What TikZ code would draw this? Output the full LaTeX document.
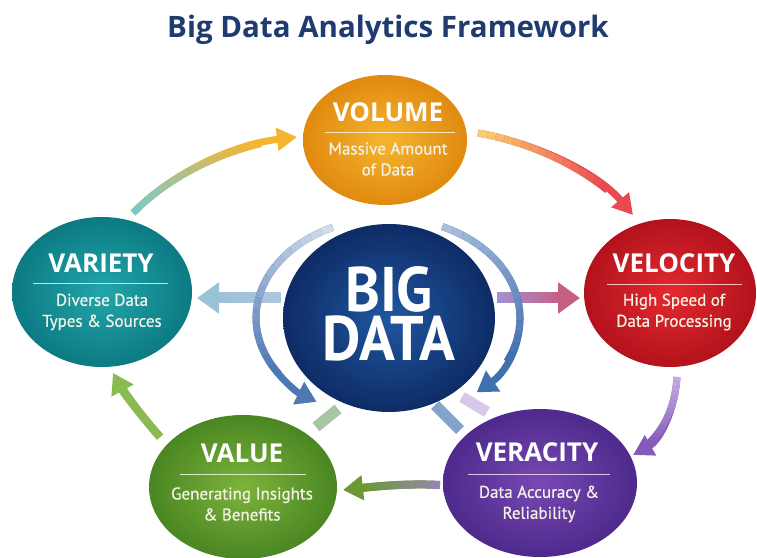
\documentclass[tikz,border=0pt]{standalone}
\usepackage{fontspec}
\setmainfont{PT Sans}
\newfontfamily\headfont{Open Sans}
\newfontfamily\subfont[FakeBold=0.7]{PT Sans}
\usetikzlibrary{shapes.geometric,arrows.meta,decorations.markings}
\definecolor{titlec}{HTML}{1F3B6F}
\definecolor{volin}{HTML}{F6B52E}\definecolor{volout}{HTML}{E08A10}
\definecolor{varin}{HTML}{22A6AB}\definecolor{varout}{HTML}{0C7A82}
\definecolor{velin}{HTML}{E42A30}\definecolor{velout}{HTML}{B3121C}
\definecolor{valin}{HTML}{7DB43C}\definecolor{valout}{HTML}{4A8622}
\definecolor{verin}{HTML}{7848B4}\definecolor{verout}{HTML}{4E2A8C}
\definecolor{bigin}{HTML}{2057A0}\definecolor{bigout}{HTML}{0E2C66}
\definecolor{subtxt}{HTML}{F4F2E4}
\newcommand{\gradarrow}[6]{%
  \draw[line width=#4, draw=#3, -{Triangle[width=#5, length=#6]}] #1;
  \path[decorate, decoration={markings, mark=between positions 0 and 0.801 step 0.05 with {\coordinate (gp\pgfkeysvalueof{/pgf/decoration/mark info/sequence number});}}] #1;
  \foreach \k [evaluate=\k as \kn using int(\k+1), evaluate=\k as \pc using int(100-(\k-1)*100/15)] in {1,...,16}
    {\draw[line width=#4, draw=#2!\pc!#3] (gp\k) -- (gp\kn);}
}
\begin{document}
\begin{tikzpicture}[x=1pt,y=1pt,
  blob/.style={ellipse, inner sep=0pt, shade},
  ttl/.style={text=white, font=\headfont\bfseries\fontsize{26}{28}\selectfont, inner sep=0pt},
  sub/.style={text=subtxt, font=\subfont\fontsize{17}{21}\selectfont, align=center, inner sep=0pt},
  bigtxt/.style={text=white, font=\bfseries\fontsize{63}{60}\selectfont, inner sep=0pt},
  divider/.style={line width=1pt}]
\useasboundingbox (0,0) rectangle (757,557);
\fill[white] (0,0) rectangle (757,557);

\node[text=titlec, font=\headfont\bfseries\fontsize{29.5}{32}\selectfont] (title) at (388,527) {Big Data Analytics Framework};

% arrow end points
\coordinate (a1s) at (133,344); \coordinate (a1e) at (297,420);
\coordinate (a2s) at (478,424); \coordinate (a2e) at (633,342);
\coordinate (a3s) at (677,180); \coordinate (a3e) at (633,102);
\coordinate (a4s) at (440,72);  \coordinate (a4e) at (343,67);
\coordinate (a5s) at (160,120); \coordinate (a5e) at (113,184);
\coordinate (a6s) at (281,259); \coordinate (a6e) at (197,259);
\coordinate (a7s) at (497,259); \coordinate (a7e) at (580,259);

% cycle arrows
\gradarrow{(a1s) .. controls (170,382) and (230,412) .. (a1e)}{varin!60!white}{volin}{7pt}{22pt}{20pt}
\gradarrow{(a2s) .. controls (530,415) and (595,387) .. (a2e)}{volin!80!white}{velin!85!white}{7pt}{22pt}{20pt}
\gradarrow{(a3s) .. controls (675,147) and (660,117) .. (a3e)}{verin!50!white}{verin!90!white}{7pt}{22pt}{20pt}
\gradarrow{(a4s) .. controls (405,74) and (370,70) .. (a4e)}{verin!55!white}{valin!85!black}{8pt}{24pt}{20pt}
\gradarrow{(a5s) .. controls (145,137) and (125,162) .. (a5e)}{valin}{valin!90!white}{8pt}{24pt}{20pt}

% straight arrows from the centre
\gradarrow{(a6s) -- (a6e)}{varin!30!bigin!50!white}{varin!40!bigin!45!white}{11pt}{30pt}{22pt}
\gradarrow{(a7s) -- (a7e)}{bigin!40!verin!60!white}{velin!60!verin!80!white}{11pt}{30pt}{22pt}

% decorative bars
\coordinate (b1s) at (316,130); \coordinate (b1e) at (338,148);
\coordinate (b2s) at (435,152); \coordinate (b2e) at (460,127);
\coordinate (b3s) at (462,160); \coordinate (b3e) at (487,145);
\draw[line width=11pt, draw=valin!70!bigin!55!white] (b1s) -- (b1e);
\draw[line width=11pt, draw=bigin!55!white] (b2s) -- (b2e);
\draw[line width=11pt, draw=verin!30!white] (b3s) -- (b3e);

% big data
\node[blob, inner color=bigin, outer color=bigout, minimum width=212pt, minimum height=188pt] (big) at (389,239) {};
\node[bigtxt, anchor=base] (bigt) at (389,245) {\scalebox{0.94}[1]{BIG}};
\node[bigtxt, anchor=base] (datat) at (389,196) {\scalebox{0.94}[1]{DATA}};

% rings
\coordinate (r1s) at ([shift={(115:133 and 100)}]big.center);
\coordinate (r2s) at ([shift={(66:131 and 100)}]big.center);
\gradarrow{(r1s) arc[start angle=115, end angle=237, x radius=133, y radius=100]}{bigin!25!white}{bigin!80!white}{7pt}{24pt}{20pt}
\gradarrow{(r2s) arc[start angle=66, end angle=-48, x radius=131, y radius=100]}{bigin!45!white}{bigin!85!white}{7pt}{24pt}{20pt}

% outer ellipses
\node[blob, inner color=volin, outer color=volout, minimum width=164pt, minimum height=130pt] (vol) at (385,417) {};
\node[blob, inner color=varin, outer color=varout, minimum width=180pt, minimum height=150pt] (var) at (102,265) {};
\node[blob, inner color=velin, outer color=velout, minimum width=172pt, minimum height=148pt] (vel) at (670,264) {};
\node[blob, inner color=valin, outer color=valout, minimum width=188pt, minimum height=144pt] (val) at (243,70) {};
\node[blob, inner color=verin, outer color=verout, minimum width=194pt, minimum height=148pt] (ver) at (540,74) {};

% texts
\node[ttl] (volt) at (388,445) {VOLUME};
\draw[divider, white!70!volin] (325,424) -- (455,424);
\node[sub] (vols) at (388,398) {Massive Amount\\of Data};

\node[ttl] (vart) at (101,294) {VARIETY};
\draw[divider, white!70!varin] (33,273) -- (168,273);
\node[sub] (vars) at (102,245) {Diverse Data\\Types \& Sources};

\node[ttl] (velt) at (674,294) {VELOCITY};
\draw[divider, white!70!velin] (607,272) -- (742,272);
\node[sub] (vels) at (674,245) {High Speed of\\Data Processing};

\node[ttl] (valt) at (242,104) {VALUE};
\draw[divider, white!70!valin] (180,83) -- (306,83);
\node[sub] (vals) at (242,53) {Generating Insights\\\& Benefits};

\node[ttl] (vert) at (537,105) {VERACITY};
\draw[divider, white!70!verin] (468,83) -- (610,83);
\node[sub] (vers) at (539,53) {Data Accuracy \&\\Reliability};
\end{tikzpicture}
\end{document}
